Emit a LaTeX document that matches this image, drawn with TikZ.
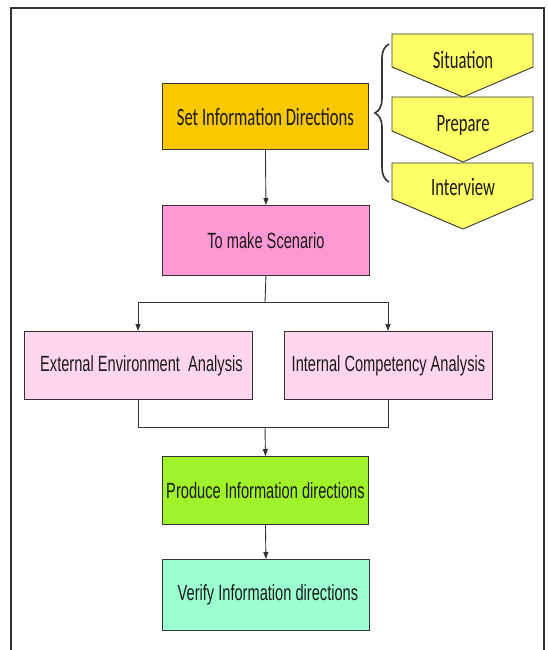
\documentclass[tikz,border=0pt]{standalone}
\usepackage{fontspec}
\setmainfont{Liberation Sans}[FakeStretch=0.665]
\newfontfamily\calfont{Carlito}[FakeStretch=0.665]
\usetikzlibrary{arrows.meta,decorations.pathreplacing}
\definecolor{gold}{HTML}{F9C800}
\definecolor{pinkA}{HTML}{FF99D6}
\definecolor{pinkB}{HTML}{FFD6EE}
\definecolor{greenA}{HTML}{A0F22A}
\definecolor{aqua}{HTML}{9CFFD0}
\definecolor{yel}{HTML}{FFFF66}
\definecolor{edge}{HTML}{333333}
\definecolor{txt}{HTML}{1A1A1A}
\tikzset{
  box/.style={draw=edge, line width=0.9pt, inner sep=0pt, anchor=north west, text=txt},
  link/.style={draw=edge, line width=0.9pt},
  arr/.style={link, -{Triangle[length=7pt,width=5pt]}},
  chev/.style={draw=edge, line width=0.9pt, fill=yel},
  lbl/.style={text=txt, font=\fontsize{22}{26}\selectfont},
  clbl/.style={text=txt, font=\calfont\fontsize{25}{29}\selectfont},
}
\begin{document}
\begin{tikzpicture}[x=1pt,y=-1pt]
\useasboundingbox (0,0) rectangle (548,650);
% frame
\draw[edge, line width=1.4pt] (11,650) -- (11,8) -- (544,8) -- (544,650);

% main boxes
\node[box, fill=gold, minimum width=206pt, minimum height=66pt] (set) at (162,83) {};
\node[clbl] at (set.center) {Set Information Directions};
\node[box, fill=pinkA, minimum width=207pt, minimum height=70pt] (scen) at (162,205) {};
\node[lbl] at (scen.center) {To make Scenario};
\node[box, fill=pinkB, minimum width=228pt, minimum height=68pt] (ext) at (24,331) {};
\node[lbl] at ([xshift=3pt]ext.center) {External Environment\ \ Analysis};
\node[box, fill=pinkB, minimum width=208pt, minimum height=68pt] (int) at (284,331) {};
\node[lbl] at (int.center) {Internal Competency Analysis};
\node[box, fill=greenA, minimum width=206pt, minimum height=68pt] (prod) at (162,456) {};
\node[lbl] at (prod.center) {Produce Information directions};
\node[box, fill=aqua, minimum width=207pt, minimum height=71pt] (ver) at (162,559) {};
\node[lbl] at ([xshift=2pt]ver.center) {Verify Information directions};

% chevrons
\draw[chev] (392,34) -- (533,34) -- (533,67) -- (463,97) -- (392,67) -- cycle;
\node[clbl] (sit) at (463,60) {Situation};
\draw[chev] (392,97) -- (533,97) -- (533,131) -- (463,162) -- (392,131) -- cycle;
\node[clbl] (prep) at (463,125) {Prepare};
\draw[chev] (392,163) -- (533,163) -- (533,199) -- (463,229) -- (392,199) -- cycle;
\node[clbl] (intv) at (463,187) {Interview};

% brace
\coordinate (bt) at (389,44);
\coordinate (bb) at (389,182);
\draw[edge, line width=1.6pt, decorate, decoration={brace, amplitude=14pt}] (bb) -- (bt);

% connectors
\draw[arr] (set.south) -- (scen.north);
\coordinate (split) at (265,302);
\coordinate (sl) at (138,302);
\coordinate (sr) at (388,302);
\draw[link] (scen.south) -- (split);
\draw[arr] (split) -- (sl) -- (ext.north -| sl);
\draw[arr] (split) -- (sr) -- (int.north -| sr);
\coordinate (ml) at (138,427);
\coordinate (mr) at (388,427);
\coordinate (mc) at (265,427);
\draw[link] (ext.south -| ml) -- (ml) -- (mr) -- (int.south -| mr);
\draw[arr] (mc) -- (prod.north);
\draw[arr] (prod.south) -- (ver.north);
\end{tikzpicture}
\end{document}
